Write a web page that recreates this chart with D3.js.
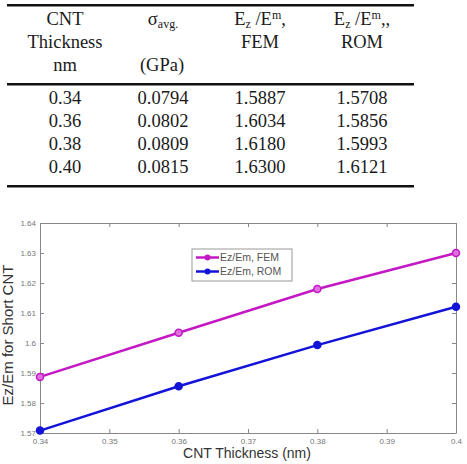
<!DOCTYPE html>
<html>
<head>
<meta charset="utf-8">
<script src="https://cdn.jsdelivr.net/npm/d3@7"></script>
<style>
  body { margin: 0; background: #fff; }
  svg { display: block; }
  .tbl text { font-family: "Liberation Serif", "DejaVu Serif", serif; }
</style>
</head>
<body>
<div id="chart"></div>
<script>
// table + chart data
const thickness = [0.34, 0.36, 0.38, 0.40];
const thicknessLabels = ['0.34', '0.36', '0.38', '0.40'];
const sigmaAvg = ['0.0794', '0.0802', '0.0809', '0.0815'];
const ratioFEM = [1.5887, 1.6034, 1.6180, 1.6300];
const ratioROM = [1.5708, 1.5856, 1.5993, 1.6121];
const xTicks = [0.34, 0.35, 0.36, 0.37, 0.38, 0.39, 0.40];
const yTicks = [1.57, 1.58, 1.59, 1.6, 1.61, 1.62, 1.63, 1.64];
const seriesNames = ['Ez/Em, FEM', 'Ez/Em, ROM'];

const width = 467, height = 464;

const svg = d3.select('#chart').append('svg')
  .attr('width', width)
  .attr('height', height);

/* ---------- table ---------- */
const table = svg.append('g')
  .attr('class', 'tbl')
  .attr('font-size', 18.5)
  .attr('fill', '#1a1a1a')
  .attr('text-anchor', 'middle');

const colX = [65, 163, 260, 362];

table.append('rect').attr('x', 7).attr('y', 4).attr('width', 407).attr('height', 2.5).attr('fill', '#111');
table.append('rect').attr('x', 7).attr('y', 83).attr('width', 407).attr('height', 2.5).attr('fill', '#111');
table.append('rect').attr('x', 7).attr('y', 185).attr('width', 407).attr('height', 2.5).attr('fill', '#111');

// header
[['CNT', 25], ['Thickness', 48], ['nm', 71]].forEach(([t, y]) => {
  table.append('text').attr('x', colX[0]).attr('y', y).text(t);
});

let h = table.append('text').attr('x', colX[1]).attr('y', 25);
h.append('tspan').text('σ');
h.append('tspan').attr('font-size', 12).attr('dy', 3).text('avg.');
table.append('text').attr('x', colX[1] - 1).attr('y', 71).text('(GPa)');

function eHeader(x, tail) {
  const t = table.append('text').attr('x', x).attr('y', 25);
  t.append('tspan').text('E');
  t.append('tspan').attr('font-size', 12).attr('dy', 3).text('z');
  t.append('tspan').attr('dy', -3).text(' /E');
  t.append('tspan').attr('font-size', 12).attr('dy', -6).text('m');
  t.append('tspan').attr('dy', 6).text(tail);
}
eHeader(colX[2], ',');
eHeader(colX[3], ',,');
table.append('text').attr('x', colX[2]).attr('y', 48).text('FEM');
table.append('text').attr('x', colX[3]).attr('y', 48).text('ROM');

thickness.forEach((d, i) => {
  const y = 104 + i * 23;
  const row = [thicknessLabels[i], sigmaAvg[i], ratioFEM[i].toFixed(4), ratioROM[i].toFixed(4)];
  row.forEach((v, j) => {
    table.append('text').attr('x', colX[j]).attr('y', y).text(v);
  });
});

/* ---------- line chart ---------- */
const plot = { left: 40, right: 456, top: 223, bottom: 433 };

const x = d3.scaleLinear().domain([0.34, 0.40]).range([plot.left, plot.right]);
const y = d3.scaleLinear().domain([1.57, 1.64]).range([plot.bottom, plot.top]);

const chart = svg.append('g')
  .attr('font-family', 'Arial, "Liberation Sans", sans-serif');

const fmt = d => String(+d.toFixed(2));

// axes with inward ticks, matlab box style
const axisStyle = g => {
  g.select('.domain').attr('stroke', '#888');
  g.selectAll('.tick line').attr('stroke', '#888');
  g.selectAll('.tick text').attr('fill', '#777').attr('font-size', 8).attr('font-family', 'Arial, sans-serif');
};

chart.append('g')
  .attr('transform', `translate(0,${plot.bottom})`)
  .call(d3.axisBottom(x).tickValues(xTicks).tickFormat(fmt).tickSizeInner(-4).tickSizeOuter(0).tickPadding(5))
  .call(axisStyle);

chart.append('g')
  .attr('transform', `translate(0,${plot.top})`)
  .call(d3.axisTop(x).tickValues(xTicks).tickFormat('').tickSizeInner(-4).tickSizeOuter(0))
  .call(axisStyle);

chart.append('g')
  .attr('transform', `translate(${plot.left},0)`)
  .call(d3.axisLeft(y).tickValues(yTicks).tickFormat(fmt).tickSizeInner(-4).tickSizeOuter(0).tickPadding(4))
  .call(axisStyle);

chart.append('g')
  .attr('transform', `translate(${plot.right},0)`)
  .call(d3.axisRight(y).tickValues(yTicks).tickFormat('').tickSizeInner(-4).tickSizeOuter(0))
  .call(axisStyle);

// axis titles
chart.append('text')
  .attr('x', 247)
  .attr('y', 458)
  .attr('text-anchor', 'middle')
  .attr('font-size', 14)
  .attr('fill', '#333')
  .text('CNT Thickness (nm)');

chart.append('text')
  .attr('transform', 'translate(13,335) rotate(-90)')
  .attr('text-anchor', 'middle')
  .attr('font-size', 15)
  .attr('fill', '#333')
  .text('Ez/Em for Short CNT');

const line = d3.line()
  .x((d, i) => x(thickness[i]))
  .y(d => y(d));

const series = [
  { name: seriesNames[0], values: ratioFEM, color: '#c418c4', fill: '#e070e0' },
  { name: seriesNames[1], values: ratioROM, color: '#1414d8', fill: '#1414d8' }
];

series.forEach(s => {
  chart.append('path')
    .attr('d', line(s.values))
    .attr('fill', 'none')
    .attr('stroke', s.color)
    .attr('stroke-width', 2.5);

  chart.selectAll(null)
    .data(s.values)
    .enter().append('circle')
    .attr('cx', (d, i) => x(thickness[i]))
    .attr('cy', d => y(d))
    .attr('r', 3.5)
    .attr('fill', s.fill)
    .attr('stroke', s.color)
    .attr('stroke-width', 1.5);
});

// legend
const legend = chart.append('g').attr('transform', 'translate(192,249)');
legend.append('rect')
  .attr('width', 100).attr('height', 32)
  .attr('fill', '#fff')
  .attr('stroke', '#999')
  .attr('stroke-width', 1);

series.forEach((s, i) => {
  const ly = 8.5 + i * 14;
  legend.append('line')
    .attr('x1', 4).attr('x2', 27)
    .attr('y1', ly).attr('y2', ly)
    .attr('stroke', s.color).attr('stroke-width', 2.5);
  legend.append('circle')
    .attr('cx', 15.5).attr('cy', ly).attr('r', 3)
    .attr('fill', s.color);
  legend.append('text')
    .attr('x', 28).attr('y', ly + 3.5)
    .attr('font-size', 10.5)
    .attr('fill', '#555')
    .text(s.name);
});
</script>
</body>
</html>
